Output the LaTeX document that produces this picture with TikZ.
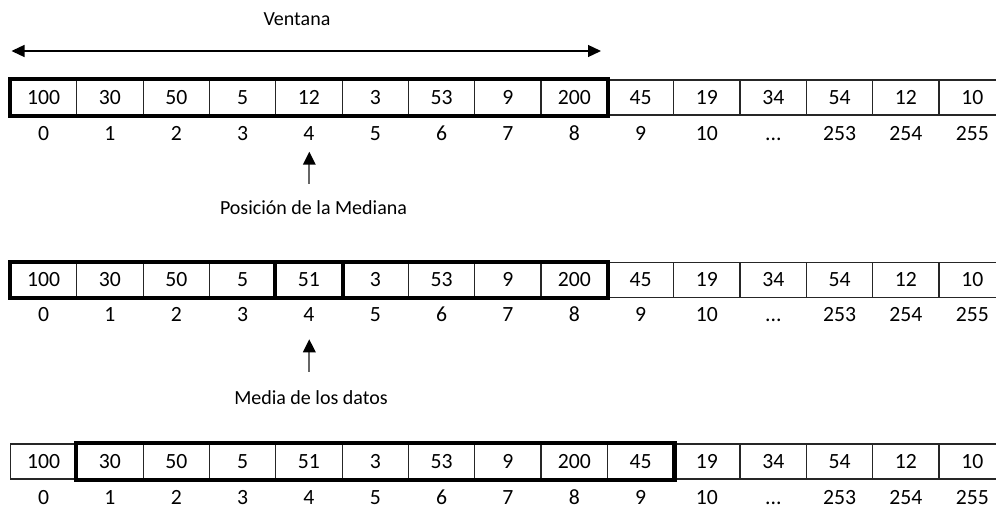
\documentclass[tikz,border=0pt]{standalone}
\usepackage{fontspec}
\setmainfont{Carlito}
\usetikzlibrary{arrows.meta}
\def\ddd{...}
\begin{document}
\begin{tikzpicture}[x=1pt,y=-1pt,
  cell/.style={draw=black!85, line width=1.3pt, minimum width=66.33pt, minimum height=35pt,
    inner sep=0pt, text height=13.6pt, text depth=0pt, font=\fontsize{21.7}{25}\selectfont},
  idx/.style={inner sep=0pt, text height=13.6pt, text depth=0pt, font=\fontsize{21.7}{25}\selectfont},
  lbl/.style={inner sep=0pt, anchor=base, font=\fontsize{20}{24}\selectfont},
  win/.style={draw=black, line width=4.2pt},
  arr/.style={draw=black!60, line width=1.7pt, -{Triangle[length=13pt,width=12.5pt,color=black,fill=black]}},
  dblarr/.style={line width=1.3pt, {Triangle[length=13pt,width=12pt]}-{Triangle[length=13pt,width=12pt]}},
]
\useasboundingbox (0,0) rectangle (996,508);
\def\xzero{10.5}
\def\cw{66.33}
% row 1
\foreach \v [count=\i from 0] in {100,30,50,5,12,3,53,9,200,45,19,34,54,12,10}
  \node[cell] (ra\i) at ({\xzero+\cw*(\i+0.5)},97.5) {\v};
\foreach \v [count=\i from 0] in {0,1,2,3,4,5,6,7,8,9,10,\ddd,253,254,255}
  \node[idx] (ia\i) at ({\xzero+\cw*(\i+0.5)},133.5) {\v};
\draw[win] (ra0.north west) rectangle (ra8.south east);
% row 2
\foreach \v [count=\i from 0] in {100,30,50,5,51,3,53,9,200,45,19,34,54,12,10}
  \node[cell] (rb\i) at ({\xzero+\cw*(\i+0.5)},280) {\v};
\foreach \v [count=\i from 0] in {0,1,2,3,4,5,6,7,8,9,10,\ddd,253,254,255}
  \node[idx] (ib\i) at ({\xzero+\cw*(\i+0.5)},314.5) {\v};
\draw[win] (rb0.north west) rectangle (rb8.south east);
\draw[win] (rb4.north west) rectangle (rb4.south east);
% row 3
\foreach \v [count=\i from 0] in {100,30,50,5,51,3,53,9,200,45,19,34,54,12,10}
  \node[cell] (rc\i) at ({\xzero+\cw*(\i+0.5)},461.5) {\v};
\foreach \v [count=\i from 0] in {0,1,2,3,4,5,6,7,8,9,10,\ddd,253,254,255}
  \node[idx] (ic\i) at ({\xzero+\cw*(\i+0.5)},497.5) {\v};
\draw[win] (rc1.north west) rectangle (rc9.south east);
% labels and arrows
\node[lbl] (vent) at (297,26) {Ventana};
\coordinate (vl) at (11.5,51);
\coordinate (vr) at (601,51);
\draw[dblarr] (vl) -- (vr);
\node[lbl] (med) at (313.5,214) {Posición de la Mediana};
\coordinate (m1s) at (309.3,183.5);
\coordinate (m1t) at (309.3,151.7);
\draw[arr] (m1s) -- (m1t);
\node[lbl] (mean) at (311,404) {Media de los datos};
\coordinate (m2s) at (309.3,371.7);
\coordinate (m2t) at (309.3,339.3);
\draw[arr] (m2s) -- (m2t);
\end{tikzpicture}
\end{document}
